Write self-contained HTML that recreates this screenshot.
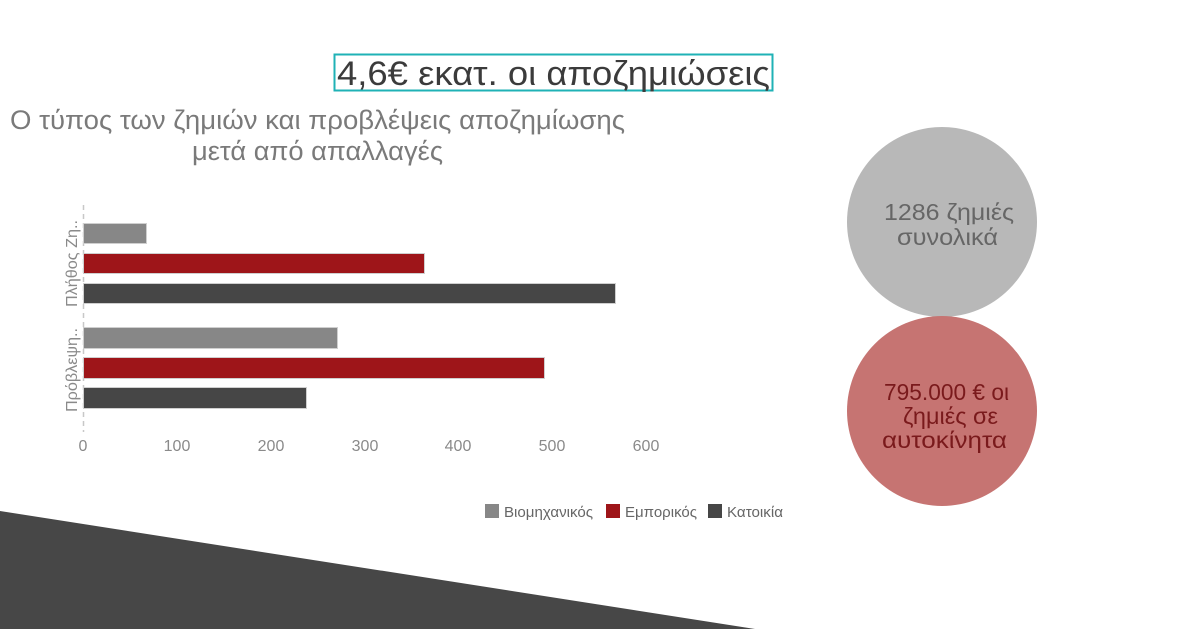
<!DOCTYPE html>
<html><head><meta charset="utf-8"><style>
html,body{margin:0;padding:0;background:#fff;}
svg{display:block;font-family:"Liberation Sans",sans-serif;}
</style></head><body>
<svg width="1200" height="629" viewBox="0 0 1200 629" xmlns="http://www.w3.org/2000/svg">
<polygon points="0,511 755,629 0,629" fill="#474747"/>
<rect x="334.5" y="54.5" width="438" height="36" fill="none" stroke="#1fb2b6" stroke-width="2"/>
<text x="337" y="85" font-size="34" fill="#3b3b3b" textLength="433" lengthAdjust="spacingAndGlyphs">4,6€ εκατ. οι αποζημιώσεις</text>
<text x="10" y="129" font-size="27" fill="#7a7a7a" textLength="615" lengthAdjust="spacingAndGlyphs">Ο τύπος των ζημιών και προβλέψεις αποζημίωσης</text>
<text x="192" y="160" font-size="27" fill="#7a7a7a" textLength="251" lengthAdjust="spacingAndGlyphs">μετά από απαλλαγές</text>
<line x1="83.5" y1="205" x2="83.5" y2="432" stroke="#c8c8c8" stroke-width="1.5" stroke-dasharray="5,4"/>
<g stroke="#cfcfcf" stroke-width="1">
<rect x="83.5" y="223.5" width="63" height="20" fill="#878787"/>
<rect x="83.5" y="253.5" width="341" height="20" fill="#9e1519"/>
<rect x="83.5" y="283.5" width="532" height="20" fill="#464646"/>
<rect x="83.5" y="327.5" width="254" height="21" fill="#878787"/>
<rect x="83.5" y="357.5" width="461" height="21" fill="#9e1519"/>
<rect x="83.5" y="387.5" width="223" height="21" fill="#464646"/>
</g>
<g font-size="16" fill="#8a8a8a">
<text transform="translate(77,307) rotate(-90)" textLength="87" lengthAdjust="spacingAndGlyphs">Πλήθος Ζη..</text>
<text transform="translate(77,412) rotate(-90)" textLength="84" lengthAdjust="spacingAndGlyphs">Πρόβλεψη..</text>
</g>
<g font-size="16" fill="#8a8a8a" text-anchor="middle">
<text x="83" y="451">0</text><text x="177" y="451">100</text><text x="271" y="451">200</text>
<text x="365" y="451">300</text><text x="458" y="451">400</text><text x="552" y="451">500</text><text x="646" y="451">600</text>
</g>
<g font-size="15" fill="#666">
<rect x="485" y="504" width="14" height="14" fill="#878787"/><text x="504" y="517" textLength="89" lengthAdjust="spacingAndGlyphs">Βιομηχανικός</text>
<rect x="606" y="504" width="14" height="14" fill="#9e1519"/><text x="625" y="517" textLength="72" lengthAdjust="spacingAndGlyphs">Εμπορικός</text>
<rect x="708" y="504" width="14" height="14" fill="#464646"/><text x="727" y="517" textLength="56" lengthAdjust="spacingAndGlyphs">Κατοικία</text>
</g>
<circle cx="942" cy="222" r="95" fill="#b8b8b8"/>
<circle cx="942" cy="411" r="95" fill="#c67472"/>
<g font-size="23">
<text x="884" y="220" fill="#666" textLength="130" lengthAdjust="spacingAndGlyphs">1286 ζημιές</text>
<text x="897" y="245" fill="#666" textLength="101" lengthAdjust="spacingAndGlyphs">συνολικά</text>
<text x="884" y="400" fill="#7a1a1c" textLength="125" lengthAdjust="spacingAndGlyphs">795.000 € οι</text>
<text x="903" y="424" fill="#7a1a1c" textLength="95" lengthAdjust="spacingAndGlyphs">ζημιές σε</text>
<text x="882" y="448" fill="#7a1a1c" textLength="125" lengthAdjust="spacingAndGlyphs">αυτοκίνητα</text>
</g>
</svg>
</body></html>
